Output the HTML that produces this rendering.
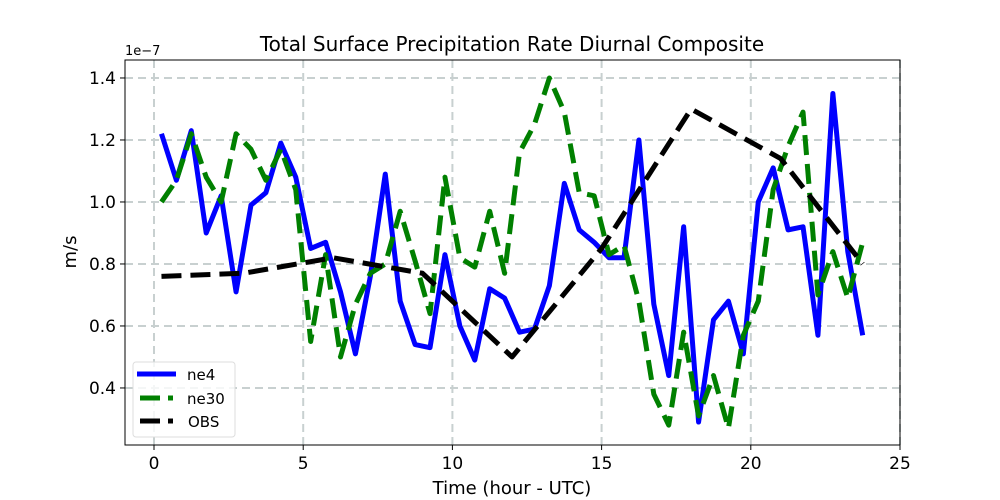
<!DOCTYPE html>
<html><head><meta charset="utf-8"><style>
body{margin:0;background:#fff;}
svg text{font-family:"DejaVu Sans","Liberation Sans",sans-serif;fill:#000;}
</style></head><body>
<svg id="chart" width="1000" height="500" style="position:absolute;left:0;top:0"></svg>
<script>
const hours = Array.from({length:48},(_,i)=>0.25+0.5*i);
const ne4 = [1.22,1.07,1.23,0.90,1.02,0.71,0.99,1.03,1.19,1.08,0.85,0.87,0.71,0.51,0.76,1.09,0.68,0.54,0.53,0.83,0.60,0.49,0.72,0.69,0.58,0.59,0.73,1.06,0.91,0.87,0.82,0.82,1.20,0.67,0.44,0.92,0.29,0.62,0.68,0.51,1.00,1.11,0.91,0.92,0.57,1.35,0.84,0.57];
const ne30 = [1.00,1.07,1.22,1.08,1.00,1.22,1.17,1.07,1.17,1.04,0.55,0.83,0.50,0.67,0.77,0.80,0.97,0.81,0.64,1.08,0.82,0.79,0.97,0.77,1.16,1.25,1.40,1.29,1.03,1.02,0.83,0.86,0.68,0.38,0.28,0.58,0.31,0.44,0.27,0.57,0.68,1.04,1.18,1.29,0.70,0.84,0.69,0.87];
const obsHours = [0.25,3,6,9,12,15,18,21,23.75];
const obs = [0.76,0.77,0.82,0.77,0.50,0.85,1.30,1.14,0.80];
const xTicks = [0,5,10,15,20,25];
const yTicks = [0.4,0.6,0.8,1.0,1.2,1.4];

const L=125,R=900,T=60,B=445;
const xmin=-0.972,xmax=25,ymin=0.216,ymax=1.458;
const sx=v=>L+(v-xmin)/(xmax-xmin)*(R-L);
const sy=v=>B-(v-ymin)/(ymax-ymin)*(B-T);
const svg=document.getElementById('chart');
const NS='http://www.w3.org/2000/svg';
function mk(tag,attrs,parent){const e=document.createElementNS(NS,tag);for(const k in attrs)e.setAttribute(k,attrs[k]);(parent||svg).appendChild(e);return e;}

xTicks.forEach(t=>{
  const g=mk('line',{x1:sx(t),x2:sx(t),y1:T,y2:B,stroke:'#c8d0d0','stroke-width':2,'stroke-dasharray':'8,5'});
  
  
  const tk=mk('line',{x1:sx(t),x2:sx(t),y1:B,y2:B+5,stroke:'#000'});
  
  
  const tx=mk('text',{x:sx(t),y:B+24,'text-anchor':'middle','font-size':17});
  tx.textContent=t;
  
  
});
yTicks.forEach(t=>{
  const g=mk('line',{x1:L,x2:R,y1:sy(t),y2:sy(t),stroke:'#c8d0d0','stroke-width':2,'stroke-dasharray':'8,5'});
  
  
  const tk=mk('line',{x1:L-5,x2:L,y1:sy(t),y2:sy(t),stroke:'#000'});
  
  
  const tx=mk('text',{x:L-9,y:sy(t)+6,'text-anchor':'end','font-size':17});
  tx.textContent=t.toFixed(1);
  
  
});
function line(xs,ys,color,dash,name){
  const p=mk('polyline',{points:xs.map((x,i)=>sx(x)+','+sy(ys[i])).join(' '),fill:'none',stroke:color,'stroke-width':5,'stroke-dasharray':dash,'stroke-linejoin':'round'});
  
  
}
line(hours,ne4,'#0000ff','none','ne4-line');
line(hours,ne30,'#008000','20,9','ne30-line');
line(obsHours,obs,'#000','20,9','obs-line');
const fr=mk('rect',{x:L,y:T,width:R-L,height:B-T,fill:'none',stroke:'#000','stroke-width':1});


</script>
<svg width="1000" height="500" style="position:absolute;left:0;top:0">
<text x="512" y="51" text-anchor="middle" font-size="20">Total Surface Precipitation Rate Diurnal Composite</text>
<text x="125" y="55" font-size="13">1e−7</text>
<text x="512" y="494" text-anchor="middle" font-size="18">Time (hour - UTC)</text>
<text x="76" y="252" text-anchor="middle" font-size="18" transform="rotate(-90 76 252)">m/s</text>
<g>
<rect x="133" y="362" width="102" height="75" rx="3" fill="#fff" fill-opacity="0.8" stroke="#ddd"/>
<line x1="137" y1="374" x2="176" y2="374" stroke="#0000ff" stroke-width="5"/>
<text x="187" y="380" font-size="15">ne4</text>
<line x1="140" y1="398" x2="173" y2="398" stroke="#008000" stroke-width="5" stroke-dasharray="20,8"/>
<text x="187" y="404" font-size="15">ne30</text>
<line x1="140" y1="421" x2="173" y2="421" stroke="#000" stroke-width="5" stroke-dasharray="20,8"/>
<text x="188" y="427" font-size="15">OBS</text>
</g>
</svg>
</body></html>
